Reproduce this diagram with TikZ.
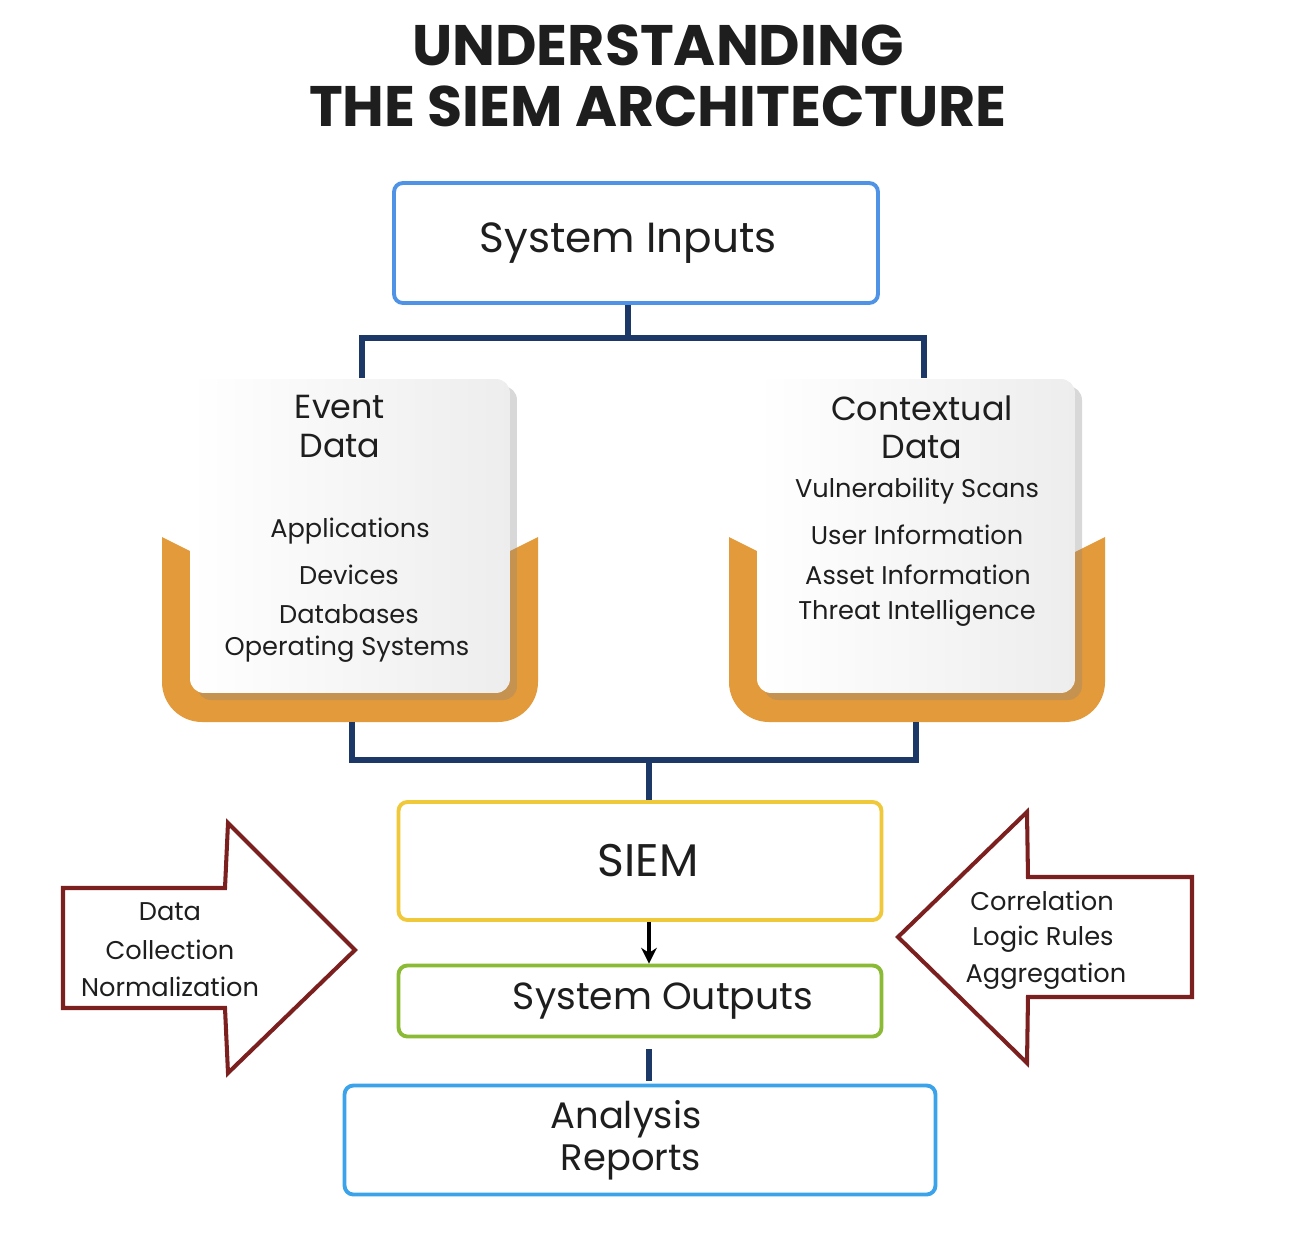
\documentclass[tikz,border=0pt]{standalone}
\usepackage{fontspec}
\setmainfont{Poppins}
\usetikzlibrary{shadows,arrows.meta}
\definecolor{navy}{HTML}{1C3866}
\definecolor{inblue}{HTML}{4F93E6}
\definecolor{anblue}{HTML}{3AA3EA}
\definecolor{orng}{HTML}{E39A3B}
\definecolor{ylw}{HTML}{F0C93A}
\definecolor{grn}{HTML}{8BBB35}
\definecolor{dred}{HTML}{7B1F1F}
\definecolor{txt}{HTML}{1E1E1E}
\begin{document}
\begin{tikzpicture}[x=0.02cm,y=-0.02cm,
  every node/.style={text=txt},
  box/.style={draw, line width=2.2pt, rounded corners=5pt, fill=white, align=center, inner sep=0pt},
  bigtxt/.style={font=\fontsize{24}{28}\selectfont},
  card/.style={rounded corners=8pt, shading=axis, left color=white, right color=black!7,
     drop shadow={shadow xshift=4pt, shadow yshift=-4pt, opacity=0.3}, inner sep=0pt},
  head/.style={font=\fontsize{19}{22}\selectfont},
  item/.style={font=\fontsize{14.6}{17}\selectfont},
  conn/.style={draw=navy, line width=3.2pt},
  bigarrow/.style={draw=dred, line width=2.3pt, line join=miter, fill=white}]
\useasboundingbox[fill=white] (0,0) rectangle (1296,1234);

% title
\node[font=\bfseries\fontsize{32.5}{35}\selectfont, align=center] (title) at (658,76) {UNDERSTANDING\\THE SIEM ARCHITECTURE};

% system inputs
\node[box, draw=inblue, minimum width=9.68cm, minimum height=2.4cm, bigtxt] (inputs) at (636,243) {\hspace*{-0.32cm}System Inputs};

% orange holders
\fill[orng] (162,537) -- (200,556) -- (500,556) -- (538,537) [rounded corners=0.8cm] -- (538,722) -- (162,722) [sharp corners] -- cycle;
\fill[orng] (729,537) -- (767,556) -- (1067,556) -- (1105,537) [rounded corners=0.8cm] -- (1105,722) -- (729,722) [sharp corners] -- cycle;

% cards
\node[card, minimum width=6.4cm, minimum height=6.28cm] (eventcard) at (350,536) {};
\node[card, minimum width=6.36cm, minimum height=6.28cm] (ctxcard) at (916,536) {};

\node[head] (evh1) at (340,407) {Event};
\node[head] (evh2) at (340,446) {Data};
\node[item] (ev1) at (350,531) {Applications};
\node[item] (ev2) at (349,575) {Devices};
\node[item] (ev3) at (349,614) {Databases};
\node[item] (ev4) at (347,649) {Operating Systems};

\node[head] (cxh1) at (922,408) {Contextual};
\node[head] (cxh2) at (922,447) {Data};
\node[item] (cx1) at (917,491) {Vulnerability Scans};
\node[item] (cx2) at (917,535) {User Information};
\node[item] (cx3) at (918,575) {Asset Information};
\node[item] (cx4) at (917,613) {Threat Intelligence};

% top connectors
\coordinate (jt) at (628,338);
\coordinate (ein) at (362,378);
\coordinate (cin) at (924,378);
\draw[conn] (inputs.south -| jt) -- (jt);
\draw[conn] (ein) |- (jt) -| (cin);

% SIEM and below
\node[box, draw=ylw, minimum width=9.66cm, minimum height=2.36cm, font=\fontsize{26}{30}\selectfont] (siem) at (640,861) {\hspace*{0.32cm}SIEM};
\node[box, draw=grn, minimum width=9.66cm, minimum height=1.42cm, font=\fontsize{21.5}{26}\selectfont] (outputs) at (640,1001) {\hspace*{0.92cm}System Outputs};
\node[box, draw=anblue, minimum width=11.82cm, minimum height=2.18cm, font=\fontsize{21}{24}\selectfont] (analysis) at (640,1140) {\hspace*{-0.56cm}Analysis\\\hspace*{-0.36cm}Reports};

% bottom connectors
\coordinate (eout) at (352,722);
\coordinate (cout) at (916,722);
\coordinate (jb) at (649,760);
\draw[conn] (eout) |- (jb) -| (cout);
\draw[conn] (jb) -- (jb |- siem.north);
\draw[line width=1.8pt, -{Stealth[length=9pt,width=9pt]}] ([xshift=0.18cm]siem.south) -- ([xshift=0.18cm]outputs.north);
\draw[conn] ([xshift=0.18cm,yshift=-0.22cm]outputs.south) -- ([xshift=0.18cm,yshift=0.06cm]analysis.north);

% big arrows
\draw[bigarrow] (63,888) -- (225,888) -- (228,823) -- (355,950) -- (228,1073) -- (225,1008) -- (63,1008) -- cycle;
\node[item] (la1) at (170,912) {Data};
\node[item] (la2) at (170,950) {Collection};
\node[item] (la3) at (170,987) {Normalization};

\draw[bigarrow] (1192,877) -- (1028,877) -- (1027,812) -- (898,937) -- (1027,1063) -- (1028,997) -- (1192,997) -- cycle;
\node[item] (ra1) at (1042,901) {Correlation};
\node[item] (ra2) at (1043,939) {Logic Rules};
\node[item] (ra3) at (1046,976) {Aggregation};
\end{tikzpicture}
\end{document}
